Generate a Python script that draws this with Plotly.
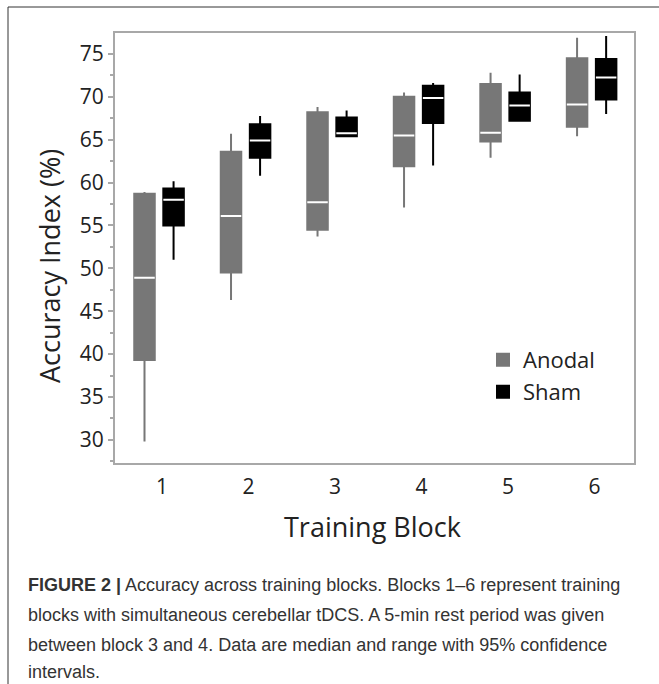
import plotly.graph_objects as go

# ---- data ----
blocks = [1, 2, 3, 4, 5, 6]
block_labels = ["1", "2", "3", "4", "5", "6"]

anodal_min = [29.8, 46.3, 53.7, 57.1, 62.9, 65.4]
anodal_q1 = [39.3, 49.5, 54.5, 61.9, 64.8, 66.5]
anodal_med = [48.9, 56.1, 57.7, 65.5, 65.8, 69.1]
anodal_q3 = [58.7, 63.6, 68.2, 70.0, 71.5, 74.5]
anodal_max = [58.9, 65.7, 68.8, 70.5, 72.8, 76.9]

sham_min = [51.0, 60.8, 65.4, 62.0, 67.2, 68.0]
sham_q1 = [55.0, 62.9, 65.4, 66.95, 67.2, 69.7]
sham_med = [58.0, 64.9, 65.75, 69.85, 69.0, 72.25]
sham_q3 = [59.3, 66.8, 67.6, 71.3, 70.5, 74.4]
sham_max = [60.15, 67.75, 68.4, 71.6, 72.6, 77.1]

y_ticks = [30, 35, 40, 45, 50, 55, 60, 65, 70, 75]

caption_lines = [
    "<b>FIGURE 2 |</b> Accuracy across training blocks. Blocks 1\u20136 represent training",
    "blocks with simultaneous cerebellar tDCS. A 5-min rest period was given",
    "between block 3 and 4. Data are median and range with 95% confidence",
    "intervals.",
]

# ---- layout geometry (pixels) ----
W, H = 659, 684
L, R, T, B = 115, 634, 33, 463


def px_x(px):
    return (px - L) / (R - L)


def px_y(py):
    return (B - py) / (B - T)


offset = 0.168
box_w = 0.237
ANODAL = "#777777"
SHAM = "#000000"
AXIS = "#a8a8a8"
FONT = "Open Sans, Lato, sans-serif"
CAP_FONT = "Liberation Sans Narrow, Liberation Sans, Arial, sans-serif"

fig = go.Figure()

series = [
    ("Anodal", -offset, anodal_min, anodal_q1, anodal_med, anodal_q3, anodal_max, ANODAL, "legend"),
    ("Sham", offset, sham_min, sham_q1, sham_med, sham_q3, sham_max, SHAM, "legend2"),
]
for name, off, lo, q1, med, q3, hi, color, leg in series:
    xs = [b + off for b in blocks]
    fig.add_trace(go.Box(
        x=xs, lowerfence=lo, q1=q1, median=med, q3=q3, upperfence=hi,
        width=box_w, whiskerwidth=0, boxpoints=False,
        fillcolor=color, line=dict(color=color, width=2),
        name=name, legend=leg, hoverinfo="skip",
    ))
    # white median line
    fig.add_trace(go.Box(
        x=xs, lowerfence=med, q1=med, median=med, q3=med, upperfence=med,
        width=box_w, whiskerwidth=0, boxpoints=False,
        fillcolor="white", line=dict(color="white", width=2),
        showlegend=False, hoverinfo="skip",
    ))

annotations = [
    dict(text="Accuracy Index (%)", x=px_x(49), y=px_y(266), xref="paper", yref="paper",
         textangle=-90, showarrow=False, xanchor="center", yanchor="middle",
         font=dict(family=FONT, size=27, color="#222")),
    dict(text="Training Block", x=px_x(372), y=px_y(526), xref="paper", yref="paper",
         showarrow=False, xanchor="center", yanchor="middle",
         font=dict(family=FONT, size=27, color="#222")),
]
cap_centers = [585, 615, 645, 672]
for line, cy in zip(caption_lines, cap_centers):
    annotations.append(dict(
        text=line, x=px_x(26), y=px_y(cy), xref="paper", yref="paper",
        showarrow=False, xanchor="left", yanchor="middle",
        font=dict(family=CAP_FONT, size=18, color="#333333"),
    ))

fig.update_layout(
    width=W, height=H, autosize=False,
    margin=dict(l=L, r=W - R, t=T, b=H - B),
    paper_bgcolor="white", plot_bgcolor="white",
    boxmode="overlay",
    font=dict(family=FONT, color="#222"),
    xaxis=dict(
        range=[0.491, 6.49], tickmode="array", tickvals=blocks, ticktext=block_labels,
        showline=True, linecolor=AXIS, linewidth=2, mirror=True,
        ticks="", showgrid=False, zeroline=False,
        tickfont=dict(size=21, family=FONT, color="#222"),
        ticklabelshift=3, ticklabelstandoff=4,
    ),
    yaxis=dict(
        range=[27.3, 77.44], tickmode="array", tickvals=y_ticks,
        showline=True, linecolor=AXIS, linewidth=2, mirror=True,
        ticks="outside", ticklen=5, tickwidth=1.5, tickcolor=AXIS,
        minor=dict(ticks="outside", ticklen=3, tickwidth=1.5, tickcolor=AXIS,
                   tickmode="linear", tick0=27.5, dtick=2.5, showgrid=False),
        showgrid=False, zeroline=False,
        tickfont=dict(size=21, family=FONT, color="#222"),
    ),
    legend=dict(x=px_x(483), y=px_y(360), xanchor="left", yanchor="middle",
                bgcolor="rgba(0,0,0,0)", font=dict(size=22, family=FONT, color="#222")),
    legend2=dict(x=px_x(483), y=px_y(392), xanchor="left", yanchor="middle",
                 bgcolor="rgba(0,0,0,0)", font=dict(size=22, family=FONT, color="#222")),
    annotations=annotations,
    shapes=[dict(type="rect", xref="paper", yref="paper",
                 x0=px_x(8), y0=px_y(7), x1=px_x(680), y1=px_y(720),
                 line=dict(color="#333", width=1), fillcolor="rgba(0,0,0,0)", layer="below")],
)

fig.write_html("out.html", config={"displayModeBar": False},
               post_script="document.body.style.margin='0';")
